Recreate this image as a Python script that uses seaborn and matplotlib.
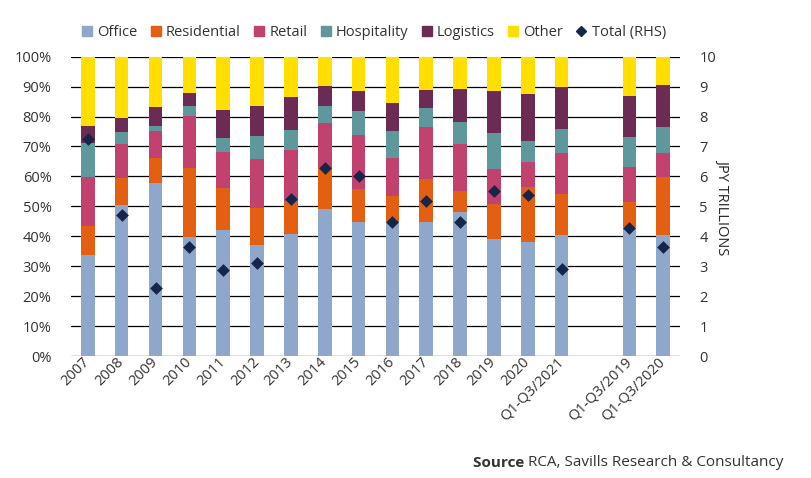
import pandas as pd
import matplotlib.pyplot as plt
import seaborn as sns
from matplotlib.lines import Line2D

periods = ['2007', '2008', '2009', '2010', '2011', '2012', '2013', '2014', '2015',
           '2016', '2017', '2018', '2019', '2020', 'Q1-Q3/2021', 'Q1-Q3/2019', 'Q1-Q3/2020']
# blank slot between the full years and the Q1-Q3 comparisons
order = periods[:15] + [''] + periods[15:]

office = [33.7, 50.4, 57.9, 39.9, 42.1, 37.1, 40.8, 49.1, 44.7, 44.7, 44.7, 48.0, 39.1, 38.0, 40.4, 43.2, 40.4]
residential = [9.7, 9.2, 8.2, 23.0, 13.9, 12.2, 11.1, 13.6, 11.1, 8.9, 14.3, 7.2, 11.6, 18.6, 13.6, 8.1, 19.5]
retail = [16.3, 11.3, 9.1, 17.3, 12.0, 16.4, 16.9, 15.0, 18.0, 12.4, 17.6, 15.6, 11.9, 8.3, 13.7, 12.0, 7.8]
hospitality = [11.3, 3.9, 1.6, 3.3, 4.8, 7.8, 6.7, 5.8, 8.0, 9.2, 6.1, 7.3, 11.8, 6.9, 8.0, 10.0, 8.9]
logistics = [5.8, 4.8, 6.3, 4.3, 9.3, 10.0, 11.1, 6.7, 6.7, 9.4, 6.2, 11.0, 14.1, 15.6, 14.3, 13.6, 13.9]
other = [23.2, 20.4, 16.9, 12.2, 17.9, 16.5, 13.4, 9.8, 11.5, 15.4, 11.1, 10.9, 11.5, 12.6, 10.0, 13.1, 9.5]
total = [7.26, 4.71, 2.27, 3.65, 2.87, 3.12, 5.26, 6.29, 6.00, 4.49, 5.17, 4.47, 5.52, 5.38, 2.90, 4.29, 3.63]

sectors = ['Office', 'Residential', 'Retail', 'Hospitality', 'Logistics', 'Other']
colors = ['#8fa7cb', '#e35f12', '#c1416f', '#5e979c', '#6c2b53', '#ffde00']
navy = '#16254a'
text_col = '#333333'

df = pd.DataFrame({'period': periods, 'Office': office, 'Residential': residential,
                   'Retail': retail, 'Hospitality': hospitality, 'Logistics': logistics,
                   'Other': other, 'total': total})
cum = df[sectors].cumsum(axis=1)
cum['period'] = df['period']

sns.set_style('white')
plt.rcParams['font.family'] = ['Open Sans', 'DejaVu Sans']
plt.rcParams['text.color'] = text_col
plt.rcParams['xtick.color'] = text_col
plt.rcParams['ytick.color'] = text_col

fs = 10.5

fig = plt.figure(figsize=(8.11, 4.78), dpi=100)
ax = fig.add_axes([0.0875, 0.2552, 0.751, 0.6262])

# stacked bars: draw cumulative totals from the top down so each layer covers the next
for sec, col in reversed(list(zip(sectors, colors))):
    sns.barplot(data=cum, x='period', y=sec, order=order, color=col, saturation=1,
                width=0.4, linewidth=0, ax=ax)

ax.set_ylim(0, 100)
ax.set_xlim(-0.5, len(order) - 0.5)
ax.set_yticks(range(0, 101, 10))
ax.set_yticklabels([f'{v}%' for v in range(0, 101, 10)])
ax.yaxis.grid(True, color='black', linewidth=0.9)
ax.set_axisbelow(True)
ax.tick_params(axis='y', length=0, pad=14, labelsize=fs)
ax.tick_params(axis='x', length=0, pad=3, labelsize=fs)
plt.setp(ax.get_xticklabels(), rotation=45, ha='right', va='center', rotation_mode='anchor')
ax.set_xlabel('')
ax.set_ylabel('')
for s in ax.spines.values():
    s.set_visible(False)

ax2 = ax.twinx()
sns.stripplot(data=df, x='period', y='total', order=order, jitter=False, marker='D',
              size=6.5, color=navy, linewidth=0, ax=ax2, zorder=5)
ax2.set_xlim(-0.5, len(order) - 0.5)
ax2.set_ylim(0, 10)
ax2.set_yticks(range(0, 11))
ax2.tick_params(axis='y', length=0, pad=14, labelsize=fs)
ax2.set_ylabel('JPY TRILLIONS', rotation=270, labelpad=10, fontsize=fs)
ax2.grid(False)
for s in ax2.spines.values():
    s.set_visible(False)

handles = [Line2D([], [], marker='s', linestyle='none', markersize=7, color=c) for c in colors]
handles.append(Line2D([], [], marker='D', linestyle='none', markersize=5, color=navy))
fig.legend(handles, sectors + ['Total (RHS)'], loc='center left', bbox_to_anchor=(0.093, 0.931),
           ncol=7, frameon=False, fontsize=fs, handlelength=0.8, handletextpad=0.3,
           columnspacing=0.85, borderaxespad=0)

src = fig.text(0.966, 0.017, 'RCA, Savills Research & Consultancy', ha='right', va='bottom',
               fontsize=11)
ax.annotate('Source ', xy=(0, 0), xycoords=src, ha='right', va='bottom',
            fontsize=11, fontweight='bold', annotation_clip=False)

fig.savefig('out.png', dpi=100)
